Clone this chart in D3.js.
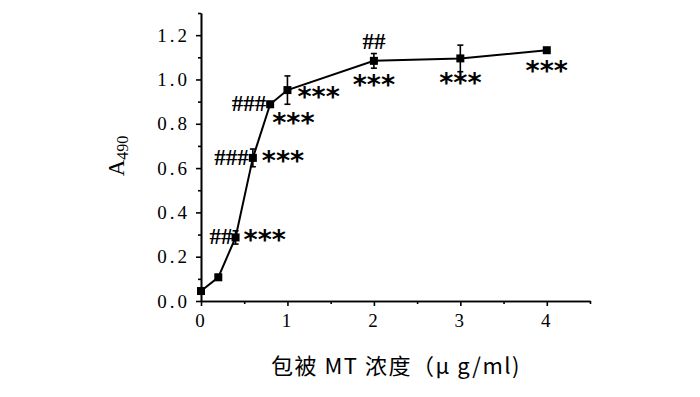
<!DOCTYPE html>
<html>
<head>
<meta charset="utf-8">
<script src="https://cdn.jsdelivr.net/npm/d3@7"></script>
<style>
  body { margin: 0; background: #fff; }
  svg { display: block; }
  .axis path, .axis line { stroke: #000; stroke-width: 1.6; }
  .axis text { font-family: "Liberation Serif", "DejaVu Serif", serif; font-size: 19px; fill: #000; letter-spacing: 3px; }
</style>
</head>
<body>
<svg width="700" height="397"></svg>
<script>
// concentration of coated MT (ug/ml) and A490 readings
var conc = [0, 0.2, 0.4, 0.6, 0.8, 1, 2, 3, 4];
var a490 = [0.045, 0.107, 0.287, 0.646, 0.888, 0.952, 1.084, 1.095, 1.132];
var err  = [0.008, 0.012, 0.03, 0.04, 0.012, 0.064, 0.033, 0.06, 0.008];
// significance marks: vs control (stars) and vs neighbour (hashes)
var stars  = ["", "", "***", "***", "***", "***", "***", "***", "***"];
var hashes = ["", "", "##", "###", "###", "", "##", "", ""];
var xTicks = [0, 1, 2, 3, 4];
var yTicks = [0, 0.2, 0.4, 0.6, 0.8, 1.0, 1.2];

var svg = d3.select("svg"),
    margin = {top: 13, left: 201, right: 110, bottom: 96},
    width = +svg.attr("width") - margin.left - margin.right,
    height = +svg.attr("height") - margin.top - margin.bottom;

var x = d3.scaleLinear().domain([0, 4.5]).range([0, width]),
    y = d3.scaleLinear().domain([0, 1.3]).range([height, 0]);

var g = svg.append("g")
    .attr("transform", "translate(" + margin.left + "," + margin.top + ")");

// minor ticks first, then the major axis
g.append("g").attr("class", "axis")
    .attr("transform", "translate(0," + height + ")")
    .call(d3.axisBottom(x).tickValues([0.5, 1.5, 2.5, 3.5, 4.5]).tickSize(3).tickFormat("").tickSizeOuter(0));
g.append("g").attr("class", "axis")
    .attr("transform", "translate(0," + height + ")")
    .call(d3.axisBottom(x).tickValues(xTicks).tickSize(5).tickSizeOuter(0).tickPadding(8).tickFormat(d3.format("d")));

g.append("g").attr("class", "axis")
    .call(d3.axisLeft(y).tickValues([0.1, 0.3, 0.5, 0.7, 0.9, 1.1, 1.3]).tickSize(3).tickFormat("").tickSizeOuter(0));
g.append("g").attr("class", "axis")
    .call(d3.axisLeft(y).tickValues(yTicks).tickSize(5).tickSizeOuter(0).tickPadding(6).tickFormat(d3.format(".1f")));

var data = conc.map(function(c, i) {
  return {c: c, v: a490[i], e: err[i], s: stars[i], h: hashes[i]};
});

g.append("path")
    .datum(data)
    .attr("fill", "none")
    .attr("stroke", "#000")
    .attr("stroke-width", 2)
    .attr("d", d3.line().x(function(d) { return x(d.c); }).y(function(d) { return y(d.v); }));

var eb = g.selectAll(".err").data(data).enter().append("g").attr("class", "err")
    .attr("stroke", "#000").attr("stroke-width", 1.6);
eb.append("line")
    .attr("x1", function(d) { return x(d.c); }).attr("x2", function(d) { return x(d.c); })
    .attr("y1", function(d) { return y(d.v + d.e); }).attr("y2", function(d) { return y(d.v - d.e); });
eb.append("line")
    .attr("x1", function(d) { return x(d.c) - 3; }).attr("x2", function(d) { return x(d.c) + 3; })
    .attr("y1", function(d) { return y(d.v + d.e); }).attr("y2", function(d) { return y(d.v + d.e); });
eb.append("line")
    .attr("x1", function(d) { return x(d.c) - 3; }).attr("x2", function(d) { return x(d.c) + 3; })
    .attr("y1", function(d) { return y(d.v - d.e); }).attr("y2", function(d) { return y(d.v - d.e); });

g.selectAll(".pt").data(data).enter().append("rect")
    .attr("x", function(d) { return x(d.c) - 4; })
    .attr("y", function(d) { return y(d.v) - 4; })
    .attr("width", 8).attr("height", 8)
    .attr("fill", "#000");

// label offsets relative to each point: [dx, dy, anchor]
var starPos = [null, null, [8, 12, "start"], [9, 12, "start"], [2, 28, "start"], [10, 16, "start"], [0, 33, "middle"], [0, 34, "middle"], [0, 30, "middle"]];
var hashPos = [null, null, [-3, 7, "end"], [-4, 7, "end"], [-4, 7, "end"], null, [0, -12, "middle"], null, null];

g.selectAll(".star").data(data.filter(function(d) { return d.s; })).enter().append("text")
    .attr("x", function(d) { return x(d.c) + starPos[conc.indexOf(d.c)][0]; })
    .attr("y", function(d) { return y(d.v) + starPos[conc.indexOf(d.c)][1]; })
    .attr("text-anchor", function(d) { return starPos[conc.indexOf(d.c)][2]; })
    .style("font-family", "'DejaVu Sans', sans-serif")
    .style("font-weight", "bold")
    .style("font-size", "27px")
    .style("letter-spacing", "0px")
    .text(function(d) { return d.s; });

g.selectAll(".hash").data(data.filter(function(d) { return d.h; })).enter().append("text")
    .attr("x", function(d) { return x(d.c) + hashPos[conc.indexOf(d.c)][0]; })
    .attr("y", function(d) { return y(d.v) + hashPos[conc.indexOf(d.c)][1]; })
    .attr("text-anchor", function(d) { return hashPos[conc.indexOf(d.c)][2]; })
    .style("font-family", "'Liberation Serif', serif")
    .style("font-weight", "bold")
    .style("font-size", "23px")
    .style("letter-spacing", "0px")
    .text(function(d) { return d.h; });

// axis titles
svg.append("text")
    .attr("x", 396).attr("y", 374)
    .attr("text-anchor", "middle")
    .style("font-family", "'Noto Sans CJK SC', sans-serif")
    .style("font-size", "22px")
    .style("letter-spacing", "1.5px")
    .text("包被 MT 浓度（μ g/ml)");

var yl = svg.append("text")
    .attr("transform", "translate(124,156) rotate(-90)")
    .attr("text-anchor", "middle")
    .style("font-family", "'Liberation Serif', serif")
    .style("font-size", "23px");
yl.append("tspan").text("A");
yl.append("tspan").attr("dy", 4).style("font-size", "16px").text("490");
</script>
</body>
</html>
